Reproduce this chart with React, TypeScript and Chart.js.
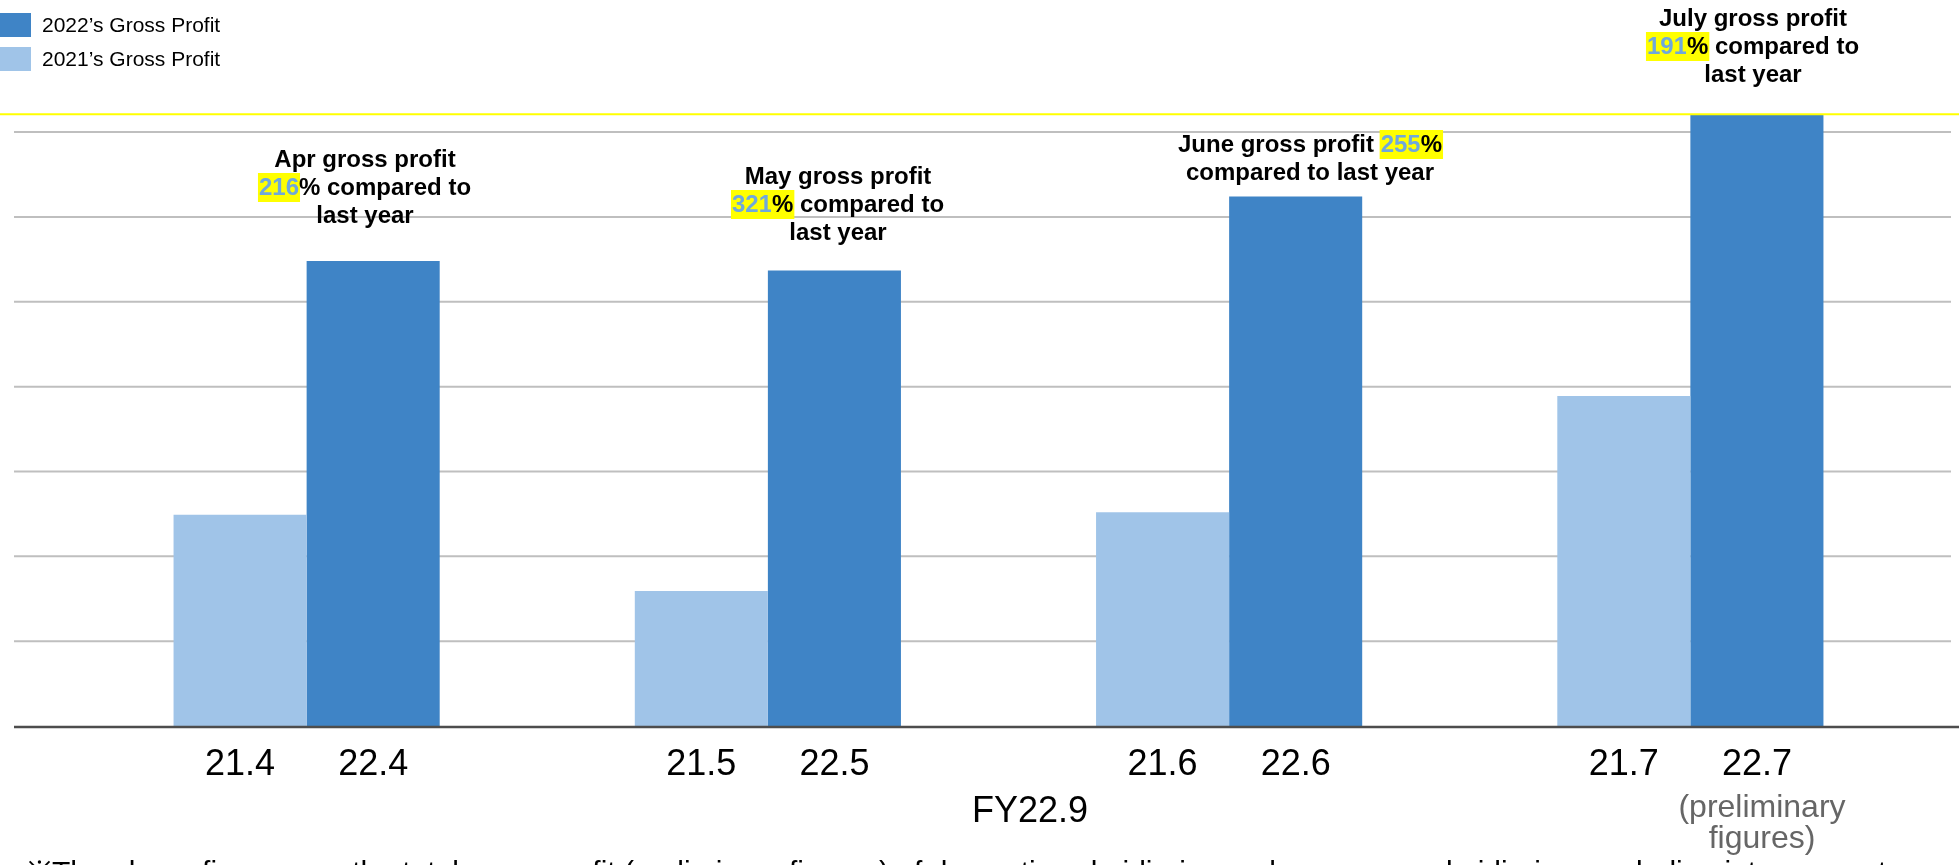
import { useEffect, useRef } from "react"
import { Chart, registerables } from "chart.js"

Chart.register(...registerables)

// datos (unidades = una línea de la rejilla)
const months = ["Apr", "May", "June", "July"]
const labels2021 = ["21.4", "21.5", "21.6", "21.7"]
const labels2022 = ["22.4", "22.5", "22.6", "22.7"]
const profit2021 = [2.49, 1.59, 2.52, 3.89]
const profit2022 = [5.48, 5.37, 6.24, 7.43]
const growthPct = ["216", "321", "255", "191"]
const gridValues = [1, 2, 3, 4, 5, 6, 7]

const DARK = "#3f84c6"
const LIGHT = "#a0c4e8"
const HL_BLUE = "#6fa8dc"
const FONT = "'Liberation Sans', Arial, sans-serif"

type Seg = { text: string; hl?: boolean; blue?: boolean }

// texto de cada nota, línea por línea
const notes: Seg[][][] = [
  [
    [{ text: `${months[0]} gross profit` }],
    [{ text: growthPct[0], hl: true, blue: true }, { text: "% compared to" }],
    [{ text: "last year" }],
  ],
  [
    [{ text: `${months[1]} gross profit` }],
    [{ text: growthPct[1], hl: true, blue: true }, { text: "%", hl: true }, { text: " compared to" }],
    [{ text: "last year" }],
  ],
  [
    [{ text: `${months[2]} gross profit ` }, { text: growthPct[2], hl: true, blue: true }, { text: "%", hl: true }],
    [{ text: "compared to last year" }],
  ],
  [
    [{ text: `${months[3]} gross profit` }],
    [{ text: growthPct[3], hl: true, blue: true }, { text: "%", hl: true }, { text: " compared to" }],
    [{ text: "last year" }],
  ],
]
// posición de cada nota (centro x, primera línea base)
const noteCenterX = [365, 838, 1310, 1753]
const noteFirstBaseline = [167, 184, 152, 26]

function drawRichLine(ctx: CanvasRenderingContext2D, segs: Seg[], cx: number, by: number) {
  const widths = segs.map((s) => ctx.measureText(s.text).width)
  const total = widths.reduce((a, b) => a + b, 0)
  let x = cx - total / 2
  segs.forEach((s, i) => {
    if (s.hl) {
      ctx.fillStyle = "#ffff00"
      ctx.fillRect(x - 1, by - 22, widths[i] + 2, 29)
    }
    ctx.fillStyle = s.blue ? HL_BLUE : "#000000"
    ctx.fillText(s.text, x, by)
    x += widths[i]
  })
}

const overlayPlugin = {
  id: "overlay",
  beforeDatasetsDraw(chart: Chart) {
    const { ctx } = chart
    const y = chart.scales.y
    ctx.save()
    ctx.strokeStyle = "#bfbfbf"
    ctx.lineWidth = 2
    gridValues.forEach((v) => {
      const py = y.getPixelForValue(v)
      ctx.beginPath()
      ctx.moveTo(14, py)
      ctx.lineTo(1951, py)
      ctx.stroke()
    })
    ctx.restore()
  },
  afterDatasetsDraw(chart: Chart) {
    const { ctx, chartArea } = chart
    const y = chart.scales.y
    ctx.save()

    // línea base
    const base = y.getPixelForValue(0) + 1
    ctx.strokeStyle = "#4d4d4d"
    ctx.lineWidth = 2.5
    ctx.beginPath()
    ctx.moveTo(14, base)
    ctx.lineTo(1959, base)
    ctx.stroke()

    // línea amarilla superior
    ctx.strokeStyle = "#ffff00"
    ctx.lineWidth = 2
    ctx.beginPath()
    ctx.moveTo(0, chartArea.top)
    ctx.lineTo(1959, chartArea.top)
    ctx.stroke()

    const light = chart.getDatasetMeta(0).data
    const dark = chart.getDatasetMeta(1).data

    // etiquetas bajo cada barra
    ctx.font = `36px ${FONT}`
    ctx.textAlign = "center"
    ctx.textBaseline = "alphabetic"
    ctx.fillStyle = "#000000"
    light.forEach((bar, i) => ctx.fillText(labels2021[i], bar.x, 775))
    dark.forEach((bar, i) => ctx.fillText(labels2022[i], bar.x, 775))
    ctx.fillText("FY22.9", 1030, 822)

    ctx.font = `32px ${FONT}`
    ctx.fillStyle = "#666666"
    ctx.fillText("(preliminary", 1762, 817)
    ctx.fillText("figures)", 1762, 848)

    // notas sobre las barras
    ctx.font = `bold 24px ${FONT}`
    ctx.textAlign = "left"
    notes.forEach((lines, i) => {
      lines.forEach((segs, j) => drawRichLine(ctx, segs, noteCenterX[i], noteFirstBaseline[i] + j * 28))
    })

    // nota al pie (cortada)
    ctx.font = `30px ${FONT}`
    ctx.fillStyle = "#000000"
    ctx.fillText(
      "※The above figures are the total gross profit (preliminary figures) of domestic subsidiaries and overseas subsidiaries, excluding intra-group transactions",
      27,
      882
    )

    // leyenda
    const legend = [
      { label: chart.data.datasets[1].label as string, color: DARK, y: 13 },
      { label: chart.data.datasets[0].label as string, color: LIGHT, y: 47 },
    ]
    ctx.font = `21px ${FONT}`
    ctx.textBaseline = "middle"
    legend.forEach((item) => {
      ctx.fillStyle = item.color
      ctx.fillRect(0, item.y, 31, 24)
      ctx.fillStyle = "#000000"
      ctx.fillText(item.label, 42, item.y + 13)
    })

    ctx.restore()
  },
}

export default function App() {
  const chartRef = useRef<HTMLCanvasElement>(null)
  const chartInstance = useRef<Chart | null>(null)

  useEffect(() => {
    document.body.style.margin = "0"
    document.body.style.overflow = "hidden"
    if (!chartRef.current) return

    if (chartInstance.current) {
      chartInstance.current.destroy()
    }

    const ctx = chartRef.current.getContext("2d")
    if (!ctx) return

    chartInstance.current = new Chart(ctx, {
      type: "bar",
      data: {
        labels: months,
        datasets: [
          {
            label: "2021’s Gross Profit",
            data: profit2021,
            backgroundColor: LIGHT,
            borderWidth: 0,
          },
          {
            label: "2022’s Gross Profit",
            data: profit2022,
            backgroundColor: DARK,
            borderWidth: 0,
          },
        ],
      },
      options: {
        animation: false,
        responsive: true,
        maintainAspectRatio: false,
        datasets: {
          bar: {
            barPercentage: 1,
            categoryPercentage: 0.577,
          },
        },
        layout: {
          padding: { left: 76, right: 38, top: 114.3, bottom: 139 },
        },
        scales: {
          x: { display: false },
          y: { display: false, min: 0, max: 7.21 },
        },
        plugins: {
          legend: { display: false },
          tooltip: { enabled: false },
        },
      },
      plugins: [overlayPlugin],
    })

    return () => {
      if (chartInstance.current) {
        chartInstance.current.destroy()
        chartInstance.current = null
      }
    }
  }, [])

  return (
    <div style={{ position: "relative", width: "1959px", height: "865px" }}>
      <canvas ref={chartRef} />
    </div>
  )
}
